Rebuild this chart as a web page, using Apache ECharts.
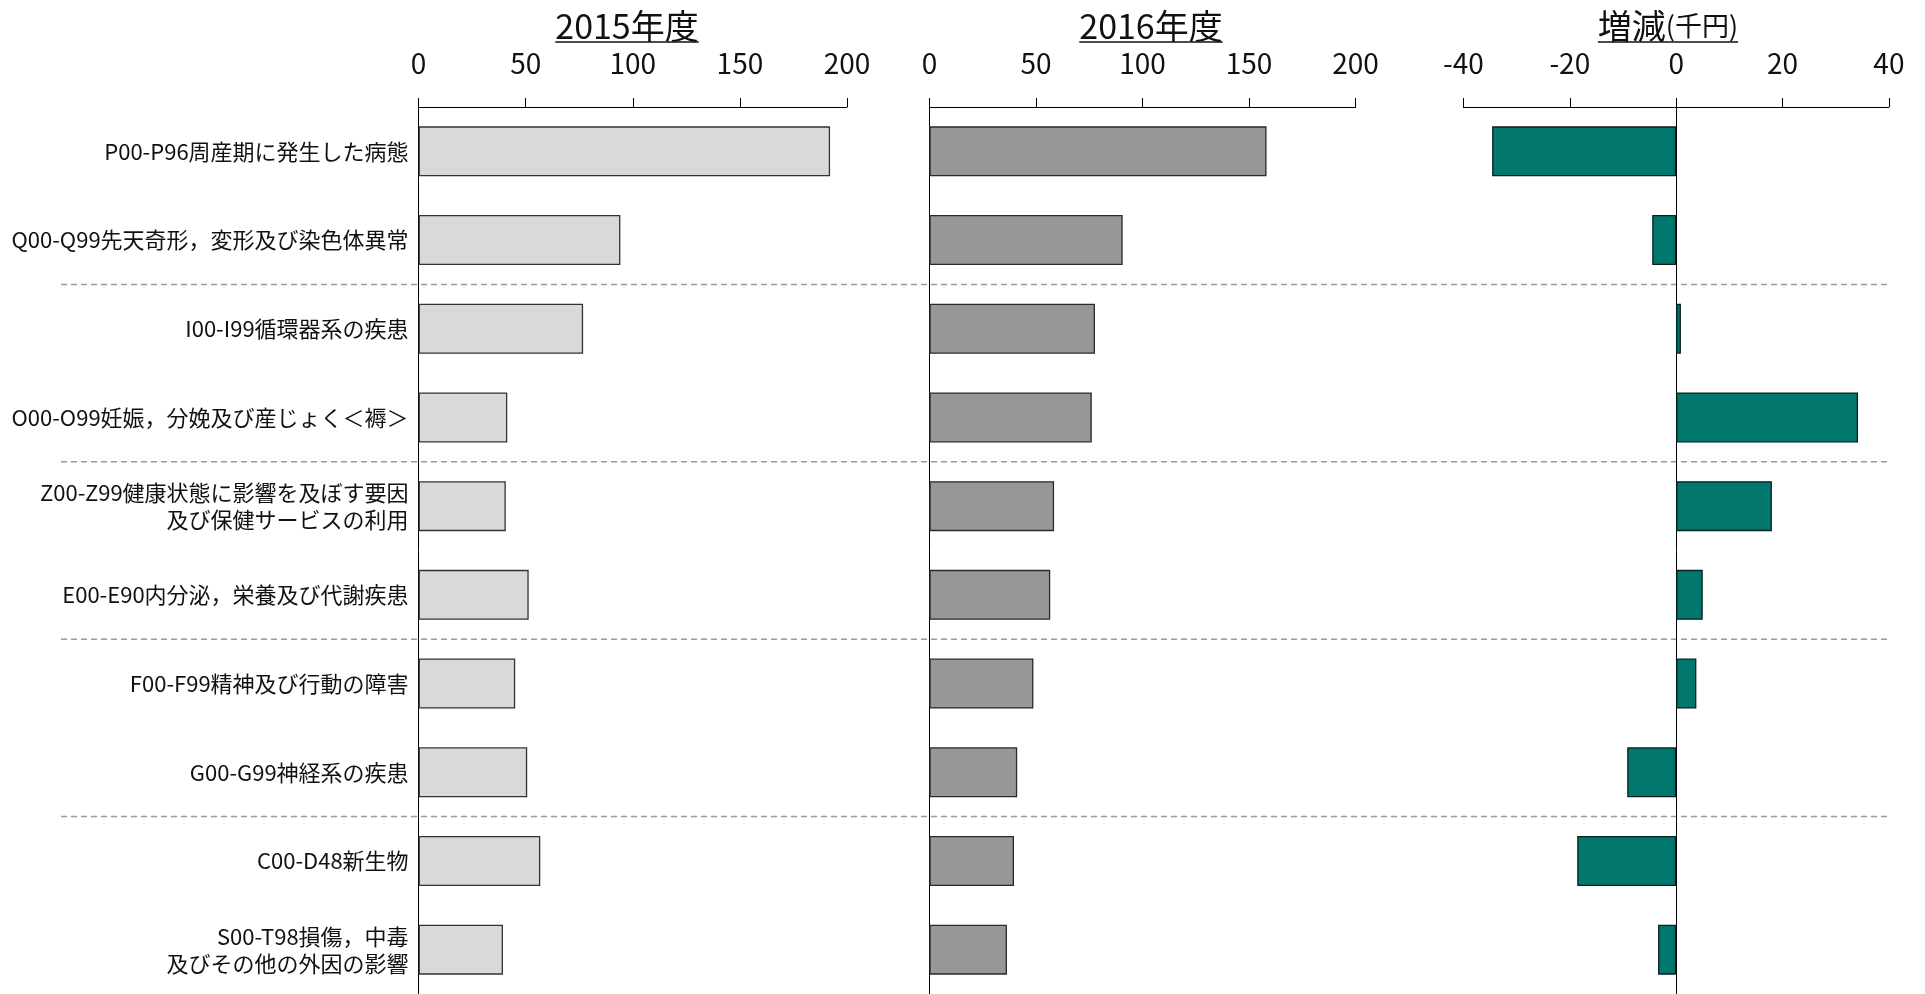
<!DOCTYPE html>
<html lang="ja">
<head>
<meta charset="utf-8">
<title>疾病分類別 医療費 2015年度・2016年度</title>
<script src="https://cdn.jsdelivr.net/npm/echarts@6/dist/echarts.min.js"></script>
<style>
  html, body { margin: 0; padding: 0; background: #ffffff; }
  #main { width: 1925px; height: 994px; }
</style>
</head>
<body>
<div id="main"></div>
<script>
// 疾病分類（上から順に表示）
const categories = [
  'P00-P96周産期に発生した病態',
  'Q00-Q99先天奇形，変形及び染色体異常',
  'I00-I99循環器系の疾患',
  'O00-O99妊娠，分娩及び産じょく＜褥＞',
  'Z00-Z99健康状態に影響を及ぼす要因\n及び保健サービスの利用',
  'E00-E90内分泌，栄養及び代謝疾患',
  'F00-F99精神及び行動の障害',
  'G00-G99神経系の疾患',
  'C00-D48新生物',
  'S00-T98損傷，中毒\n及びその他の外因の影響'
];

// 金額（千円）
const values2015 = [192.1, 94.2, 76.8, 41.4, 40.7, 51.4, 45.1, 50.7, 56.8, 39.4];
const values2016 = [158.2, 90.7, 77.7, 76.2, 58.5, 56.7, 48.8, 41.2, 39.7, 36.4];
// 増減（千円）
const changeValues = [-34.6, -4.5, 0.9, 34.2, 18.0, 5.0, 3.8, -9.2, -18.6, -3.4];

// 目盛
const amountTicks = [0, 50, 100, 150, 200];
const changeTicks = [-40, -20, 0, 20, 40];

// 見出し
const panelTitles = ['2015年度', '2016年度', '増減'];
const unitLabel = '(千円)';

// 区切り線を引く位置（その分類の上側）
const groupStarts = [2, 4, 6, 8];

const FONT = '"Noto Sans CJK JP", "Noto Sans", sans-serif';
const TEXT_COLOR = '#111111';

const chart = echarts.init(document.getElementById('main'));

function axisFrom(ticks) {
  return { min: ticks[0], max: ticks[ticks.length - 1], interval: ticks[1] - ticks[0] };
}

function valueAxis(gridIndex, ticks) {
  const r = axisFrom(ticks);
  return {
    type: 'value',
    gridIndex: gridIndex,
    position: 'top',
    min: r.min,
    max: r.max,
    interval: r.interval,
    axisLine: { show: true, onZero: false, lineStyle: { color: '#000', width: 1 } },
    axisTick: { show: true, length: 9, lineStyle: { color: '#000', width: 1 } },
    axisLabel: { fontFamily: FONT, fontSize: 28, color: TEXT_COLOR, margin: 30 },
    splitLine: { show: false }
  };
}

function categoryAxis(gridIndex, showLabel) {
  return {
    type: 'category',
    gridIndex: gridIndex,
    data: categories,
    inverse: true,
    axisLine: { show: true, lineStyle: { color: '#000', width: 1 } },
    axisTick: { show: false },
    axisLabel: {
      show: showLabel,
      fontFamily: FONT,
      fontSize: 22,
      lineHeight: 27,
      color: TEXT_COLOR,
      margin: 10,
      align: 'right'
    },
    splitLine: { show: false }
  };
}

const GRID_TOP = 107;
const GRID_HEIGHT = 888;
const SEP_LEFT = 61;
const SEP_RIGHT = 1888;

// 見出しと下線
const measureCtx = document.createElement('canvas').getContext('2d');
function textWidth(text, size) {
  measureCtx.font = size + 'px ' + FONT;
  return measureCtx.measureText(text).width;
}

const TITLE_SIZE = 34;
const UNIT_SIZE = 27;
const titleCenters = [627, 1151, 1668];
const titleY = 26;
const underlineY = 42;

const titleGraphics = [];
titleCenters.forEach(function (cx, i) {
  let w;
  let style;
  if (i === 2) {
    w = textWidth(panelTitles[i], TITLE_SIZE) + textWidth(unitLabel, UNIT_SIZE);
    style = {
      text: '{a|' + panelTitles[i] + '}{b|' + unitLabel + '}',
      rich: {
        a: { fontFamily: FONT, fontSize: TITLE_SIZE, fill: TEXT_COLOR, lineHeight: 40, verticalAlign: 'middle' },
        b: { fontFamily: FONT, fontSize: UNIT_SIZE, fill: TEXT_COLOR, lineHeight: 40, verticalAlign: 'middle' }
      },
      align: 'center',
      verticalAlign: 'middle'
    };
  } else {
    w = textWidth(panelTitles[i], TITLE_SIZE);
    style = {
      text: panelTitles[i],
      fontFamily: FONT,
      fontSize: TITLE_SIZE,
      fill: TEXT_COLOR,
      align: 'center',
      verticalAlign: 'middle'
    };
  }
  titleGraphics.push({ type: 'text', x: cx, y: titleY, style: style });
  titleGraphics.push({
    type: 'line',
    shape: { x1: cx - w / 2, y1: underlineY, x2: cx + w / 2, y2: underlineY },
    style: { stroke: TEXT_COLOR, lineWidth: 1.5 }
  });
});

const barBase = { type: 'bar', barWidth: 50 };

chart.setOption({
  animation: false,
  backgroundColor: '#ffffff',
  textStyle: { fontFamily: FONT },
  grid: [
    { left: 418.6, top: GRID_TOP, width: 428.4, height: GRID_HEIGHT },
    { left: 929.4, top: GRID_TOP, width: 426.2, height: GRID_HEIGHT },
    { left: 1463.4, top: GRID_TOP, width: 425.5, height: GRID_HEIGHT }
  ],
  xAxis: [
    valueAxis(0, amountTicks),
    valueAxis(1, amountTicks),
    valueAxis(2, changeTicks)
  ],
  yAxis: [
    categoryAxis(0, true),
    categoryAxis(1, false),
    Object.assign(categoryAxis(2, false), {
      axisLine: { show: true, onZero: true, lineStyle: { color: '#000', width: 1 } }
    })
  ],
  series: [
    Object.assign({}, barBase, {
      name: panelTitles[0],
      xAxisIndex: 0, yAxisIndex: 0,
      data: values2015,
      itemStyle: { color: '#d8d9db', borderColor: '#333333', borderWidth: 1.3 }
    }),
    Object.assign({}, barBase, {
      name: panelTitles[1],
      xAxisIndex: 1, yAxisIndex: 1,
      data: values2016,
      itemStyle: { color: '#979797', borderColor: '#2a2a2a', borderWidth: 1.3 }
    }),
    Object.assign({}, barBase, {
      name: panelTitles[2],
      xAxisIndex: 2, yAxisIndex: 2,
      data: changeValues,
      itemStyle: { color: '#02776e', borderColor: '#0b1f1d', borderWidth: 1.3 }
    })
  ],
  graphic: titleGraphics
});

// 分類グループの区切り（破線）：隣り合う分類の中心の中間に引く
const sepGraphics = groupStarts.map(function (idx) {
  const yPrev = chart.convertToPixel({ yAxisIndex: 0 }, categories[idx - 1]);
  const yNext = chart.convertToPixel({ yAxisIndex: 0 }, categories[idx]);
  const y = (yPrev + yNext) / 2;
  return {
    type: 'line',
    z: 0,
    shape: { x1: SEP_LEFT, y1: y, x2: SEP_RIGHT, y2: y },
    style: { stroke: '#9a9a9a', lineWidth: 1.5, lineDash: [6, 4] }
  };
});

chart.setOption({ graphic: titleGraphics.concat(sepGraphics) });
</script>
</body>
</html>
